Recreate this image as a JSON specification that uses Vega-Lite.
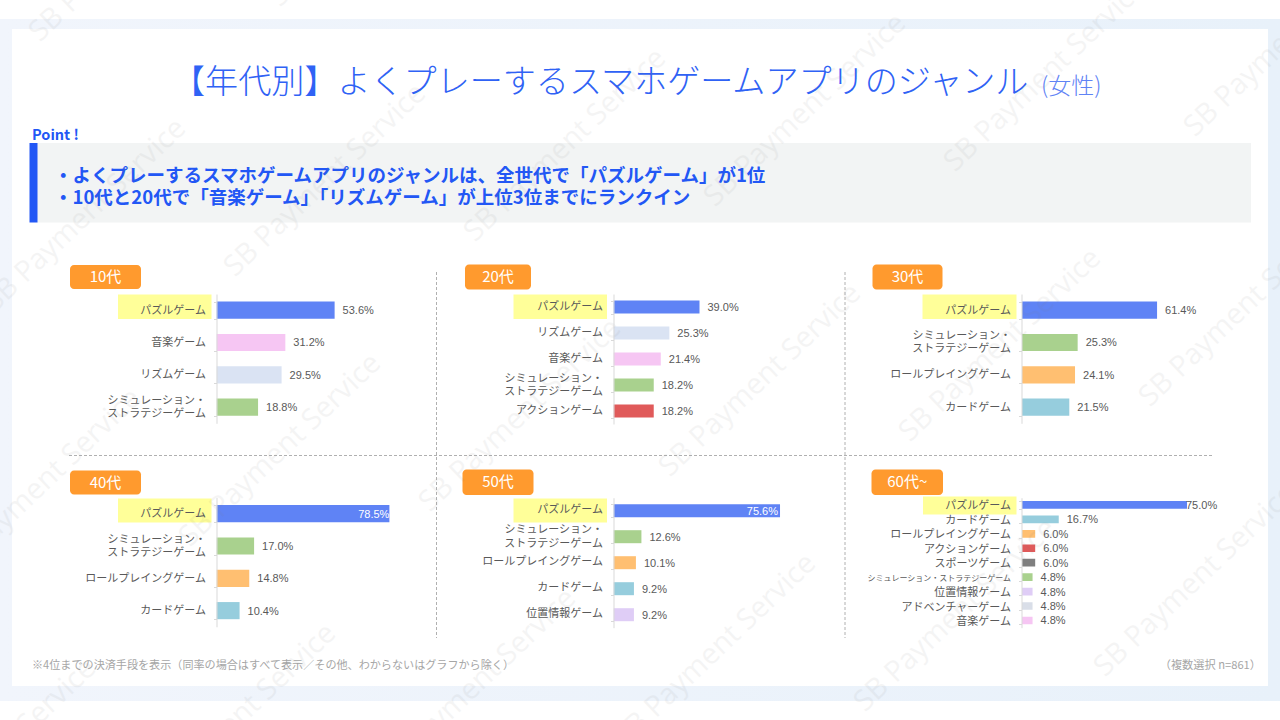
{
  "$schema": "https://vega.github.io/schema/vega-lite/v6.json",
  "width": 1280,
  "height": 720,
  "padding": 0,
  "autosize": {"type": "none"},
  "background": "#ffffff",
  "config": {
    "view": {"stroke": null},
    "legend": {"disable": true},
    "font": "Noto Sans CJK JP",
    "axisY": {
      "title": null,
      "grid": false,
      "domainColor": "#d9d9d9",
      "tickColor": "#d9d9d9",
      "tickSize": 3,
      "tickBand": "extent",
      "labelColor": "#595959",
      "labelFont": "Noto Sans CJK JP",
      "labelFontSize": 11,
      "labelLineHeight": 13.3,
      "labelPadding": 8,
      "labelLimit": 300,
      "labelOverlap": false,
      "labelBound": false
    }
  },
  "datasets": {
    "shares": [
      {"age": "10代", "genre": "パズルゲーム", "share": 0.536},
      {"age": "10代", "genre": "音楽ゲーム", "share": 0.312},
      {"age": "10代", "genre": "リズムゲーム", "share": 0.295},
      {"age": "10代", "genre": "シミュレーション・ストラテジーゲーム", "share": 0.188},
      {"age": "20代", "genre": "パズルゲーム", "share": 0.39},
      {"age": "20代", "genre": "リズムゲーム", "share": 0.253},
      {"age": "20代", "genre": "音楽ゲーム", "share": 0.214},
      {"age": "20代", "genre": "シミュレーション・ストラテジーゲーム", "share": 0.182},
      {"age": "20代", "genre": "アクションゲーム", "share": 0.182},
      {"age": "30代", "genre": "パズルゲーム", "share": 0.614},
      {"age": "30代", "genre": "シミュレーション・ストラテジーゲーム", "share": 0.253},
      {"age": "30代", "genre": "ロールプレイングゲーム", "share": 0.241},
      {"age": "30代", "genre": "カードゲーム", "share": 0.215},
      {"age": "40代", "genre": "パズルゲーム", "share": 0.785},
      {"age": "40代", "genre": "シミュレーション・ストラテジーゲーム", "share": 0.17},
      {"age": "40代", "genre": "ロールプレイングゲーム", "share": 0.148},
      {"age": "40代", "genre": "カードゲーム", "share": 0.104},
      {"age": "50代", "genre": "パズルゲーム", "share": 0.756},
      {"age": "50代", "genre": "シミュレーション・ストラテジーゲーム", "share": 0.126},
      {"age": "50代", "genre": "ロールプレイングゲーム", "share": 0.101},
      {"age": "50代", "genre": "カードゲーム", "share": 0.092},
      {"age": "50代", "genre": "位置情報ゲーム", "share": 0.092},
      {"age": "60代~", "genre": "パズルゲーム", "share": 0.75},
      {"age": "60代~", "genre": "カードゲーム", "share": 0.167},
      {"age": "60代~", "genre": "ロールプレイングゲーム", "share": 0.06},
      {"age": "60代~", "genre": "アクションゲーム", "share": 0.06},
      {"age": "60代~", "genre": "スポーツゲーム", "share": 0.06},
      {"age": "60代~", "genre": "シミュレーション・ストラテジーゲーム", "share": 0.048},
      {"age": "60代~", "genre": "位置情報ゲーム", "share": 0.048},
      {"age": "60代~", "genre": "アドベンチャーゲーム", "share": 0.048},
      {"age": "60代~", "genre": "音楽ゲーム", "share": 0.048}
    ],
    "marks": [
      {"col": 0, "row": 0}, {"col": 1, "row": 0}, {"col": 2, "row": 0}, {"col": 3, "row": 0}, {"col": 4, "row": 0}, {"col": 5, "row": 0},
      {"col": 0, "row": 1}, {"col": 1, "row": 1}, {"col": 2, "row": 1}, {"col": 3, "row": 1}, {"col": 4, "row": 1}, {"col": 5, "row": 1},
      {"col": 0, "row": 2}, {"col": 1, "row": 2}, {"col": 2, "row": 2}, {"col": 3, "row": 2}, {"col": 4, "row": 2}, {"col": 5, "row": 2},
      {"col": 0, "row": 3}, {"col": 1, "row": 3}, {"col": 2, "row": 3}, {"col": 3, "row": 3}, {"col": 4, "row": 3}, {"col": 5, "row": 3}
    ]
  },
  "resolve": {
    "scale": {"x": "independent", "y": "independent", "xOffset": "independent", "yOffset": "independent"},
    "axis": {"x": "independent", "y": "independent"}
  },
  "layer": [
    {
      "data": {"values": [{"item": "band"}]},
      "mark": {"type": "rect", "fill": {"gradient": "linear", "x1": 0, "y1": 0, "x2": 1, "y2": 0, "stops": [{"offset": 0, "color": "#f1f5fc"}, {"offset": 1, "color": "#e8f1fa"}]}},
      "encoding": {
        "x": {"field": "item", "type": "nominal", "scale": {"type": "band", "range": [0, 1280], "paddingInner": 0, "paddingOuter": 0}, "axis": null},
        "y": {"field": "item", "type": "nominal", "scale": {"type": "band", "range": [19, 701], "paddingInner": 0, "paddingOuter": 0}, "axis": null}
      }
    },
    {
      "data": {"values": [{"item": "card"}]},
      "mark": {"type": "rect", "fill": "#ffffff"},
      "encoding": {
        "x": {"field": "item", "type": "nominal", "scale": {"type": "band", "range": [12, 1268], "paddingInner": 0, "paddingOuter": 0}, "axis": null},
        "y": {"field": "item", "type": "nominal", "scale": {"type": "band", "range": [29, 686], "paddingInner": 0, "paddingOuter": 0}, "axis": null}
      }
    },
    {
      "data": {"values": [{"item": "point box"}]},
      "mark": {"type": "rect", "fill": "#f2f4f4"},
      "encoding": {
        "x": {"field": "item", "type": "nominal", "scale": {"type": "band", "range": [37, 1251], "paddingInner": 0, "paddingOuter": 0}, "axis": null},
        "y": {"field": "item", "type": "nominal", "scale": {"type": "band", "range": [143, 222.5], "paddingInner": 0, "paddingOuter": 0}, "axis": null}
      }
    },
    {
      "data": {"values": [{"item": "point bar"}]},
      "mark": {"type": "rect", "fill": "#2257f5"},
      "encoding": {
        "x": {"field": "item", "type": "nominal", "scale": {"type": "band", "range": [29.5, 37.5], "paddingInner": 0, "paddingOuter": 0}, "axis": null},
        "y": {"field": "item", "type": "nominal", "scale": {"type": "band", "range": [143, 222.5], "paddingInner": 0, "paddingOuter": 0}, "axis": null}
      }
    },
    {
      "data": {"values": [{"text": "【年代別】よくプレーするスマホゲームアプリのジャンル"}]},
      "mark": {"type": "text", "align": "left", "baseline": "middle", "fontSize": 33.1, "fontWeight": 300, "color": "#2f62f5"},
      "encoding": {
        "x": {"field": "text", "type": "nominal", "scale": {"type": "point", "range": [172, 172]}, "axis": null},
        "y": {"field": "text", "type": "nominal", "scale": {"type": "point", "range": [83, 83]}, "axis": null},
        "text": {"field": "text"}
      }
    },
    {
      "data": {"values": [{"text": "(女性)"}]},
      "mark": {"type": "text", "align": "left", "baseline": "middle", "fontSize": 23, "fontWeight": 300, "color": "#5f83f5"},
      "encoding": {
        "x": {"field": "text", "type": "nominal", "scale": {"type": "point", "range": [1041, 1041]}, "axis": null},
        "y": {"field": "text", "type": "nominal", "scale": {"type": "point", "range": [86.5, 86.5]}, "axis": null},
        "text": {"field": "text"}
      }
    },
    {
      "data": {"values": [{"text": "Point !"}]},
      "mark": {"type": "text", "align": "left", "baseline": "middle", "fontSize": 14.5, "fontWeight": "bold", "color": "#2257f5"},
      "encoding": {
        "x": {"field": "text", "type": "nominal", "scale": {"type": "point", "range": [32, 32]}, "axis": null},
        "y": {"field": "text", "type": "nominal", "scale": {"type": "point", "range": [135.5, 135.5]}, "axis": null},
        "text": {"field": "text"}
      }
    },
    {
      "data": {"values": [
        {"text": "・よくプレーするスマホゲームアプリのジャンルは、全世代で「パズルゲーム」が1位"},
        {"text": "・10代と20代で「音楽ゲーム」「リズムゲーム」が上位3位までにランクイン"}
      ]},
      "mark": {"type": "text", "align": "left", "baseline": "middle", "fontSize": 18.5, "fontWeight": "bold", "color": "#2257f5"},
      "encoding": {
        "x": {"field": "text", "type": "nominal", "scale": {"type": "point", "range": [54, 54]}, "axis": null},
        "y": {"field": "text", "type": "nominal", "sort": null, "scale": {"type": "point", "range": [175.5, 197.5], "padding": 0}, "axis": null},
        "text": {"field": "text"}
      }
    },
    {
      "data": {"values": [{"text": "※4位までの決済手段を表示（同率の場合はすべて表示／その他、わからないはグラフから除く）"}]},
      "mark": {"type": "text", "align": "left", "baseline": "middle", "fontSize": 11.1, "color": "#a6a6a6"},
      "encoding": {
        "x": {"field": "text", "type": "nominal", "scale": {"type": "point", "range": [32, 32]}, "axis": null},
        "y": {"field": "text", "type": "nominal", "scale": {"type": "point", "range": [665.5, 665.5]}, "axis": null},
        "text": {"field": "text"}
      }
    },
    {
      "data": {"values": [{"text": "（複数選択 n=861）"}]},
      "mark": {"type": "text", "align": "right", "baseline": "middle", "fontSize": 11.2, "color": "#a6a6a6"},
      "encoding": {
        "x": {"field": "text", "type": "nominal", "scale": {"type": "point", "range": [1261, 1261]}, "axis": null},
        "y": {"field": "text", "type": "nominal", "scale": {"type": "point", "range": [665.5, 665.5]}, "axis": null},
        "text": {"field": "text"}
      }
    },
    {
      "data": {"values": [{"divider": "left"}, {"divider": "right"}]},
      "mark": {"type": "rule", "color": "#b0b0b0", "strokeDash": [3, 2], "strokeWidth": 1},
      "encoding": {
        "x": {"field": "divider", "type": "nominal", "sort": null, "scale": {"type": "point", "range": [436.5, 845], "padding": 0}, "axis": null},
        "y": {"datum": 0, "type": "quantitative", "scale": {"domain": [0, 1], "range": [272, 638]}, "axis": null},
        "y2": {"datum": 1}
      }
    },
    {
      "data": {"values": [{"divider": "middle"}]},
      "mark": {"type": "rule", "color": "#b0b0b0", "strokeDash": [3, 2], "strokeWidth": 1},
      "encoding": {
        "y": {"field": "divider", "type": "nominal", "scale": {"type": "point", "range": [455.5, 455.5]}, "axis": null},
        "x": {"datum": 0, "type": "quantitative", "scale": {"domain": [0, 1], "range": [69, 1212]}, "axis": null},
        "x2": {"datum": 1}
      }
    },
    {
      "data": {"values": [{"age": "10代"}]},
      "encoding": {
        "x": {"field": "age", "type": "nominal", "scale": {"type": "band", "range": [70, 141], "paddingInner": 0, "paddingOuter": 0}, "axis": null},
        "y": {"field": "age", "type": "nominal", "scale": {"type": "band", "range": [265, 289], "paddingInner": 0, "paddingOuter": 0}, "axis": null}
      },
      "layer": [
        {"mark": {"type": "rect", "fill": "#ff9a2e", "cornerRadius": 4}},
        {"mark": {"type": "text", "color": "#ffffff", "fontSize": 15}, "encoding": {"text": {"field": "age"}}}
      ]
    },
    {
      "data": {"values": [{"age": "20代"}]},
      "encoding": {
        "x": {"field": "age", "type": "nominal", "scale": {"type": "band", "range": [465, 531], "paddingInner": 0, "paddingOuter": 0}, "axis": null},
        "y": {"field": "age", "type": "nominal", "scale": {"type": "band", "range": [264.5, 289.5], "paddingInner": 0, "paddingOuter": 0}, "axis": null}
      },
      "layer": [
        {"mark": {"type": "rect", "fill": "#ff9a2e", "cornerRadius": 4}},
        {"mark": {"type": "text", "color": "#ffffff", "fontSize": 15}, "encoding": {"text": {"field": "age"}}}
      ]
    },
    {
      "data": {"values": [{"age": "30代"}]},
      "encoding": {
        "x": {"field": "age", "type": "nominal", "scale": {"type": "band", "range": [872.5, 942.5], "paddingInner": 0, "paddingOuter": 0}, "axis": null},
        "y": {"field": "age", "type": "nominal", "scale": {"type": "band", "range": [264.5, 289.5], "paddingInner": 0, "paddingOuter": 0}, "axis": null}
      },
      "layer": [
        {"mark": {"type": "rect", "fill": "#ff9a2e", "cornerRadius": 4}},
        {"mark": {"type": "text", "color": "#ffffff", "fontSize": 15}, "encoding": {"text": {"field": "age"}}}
      ]
    },
    {
      "data": {"values": [{"age": "40代"}]},
      "encoding": {
        "x": {"field": "age", "type": "nominal", "scale": {"type": "band", "range": [70, 141], "paddingInner": 0, "paddingOuter": 0}, "axis": null},
        "y": {"field": "age", "type": "nominal", "scale": {"type": "band", "range": [470.5, 494.5], "paddingInner": 0, "paddingOuter": 0}, "axis": null}
      },
      "layer": [
        {"mark": {"type": "rect", "fill": "#ff9a2e", "cornerRadius": 4}},
        {"mark": {"type": "text", "color": "#ffffff", "fontSize": 15}, "encoding": {"text": {"field": "age"}}}
      ]
    },
    {
      "data": {"values": [{"age": "50代"}]},
      "encoding": {
        "x": {"field": "age", "type": "nominal", "scale": {"type": "band", "range": [462.5, 533.5], "paddingInner": 0, "paddingOuter": 0}, "axis": null},
        "y": {"field": "age", "type": "nominal", "scale": {"type": "band", "range": [469.5, 495], "paddingInner": 0, "paddingOuter": 0}, "axis": null}
      },
      "layer": [
        {"mark": {"type": "rect", "fill": "#ff9a2e", "cornerRadius": 4}},
        {"mark": {"type": "text", "color": "#ffffff", "fontSize": 15}, "encoding": {"text": {"field": "age"}}}
      ]
    },
    {
      "data": {"values": [{"age": "60代~"}]},
      "encoding": {
        "x": {"field": "age", "type": "nominal", "scale": {"type": "band", "range": [871.5, 943], "paddingInner": 0, "paddingOuter": 0}, "axis": null},
        "y": {"field": "age", "type": "nominal", "scale": {"type": "band", "range": [469.5, 495], "paddingInner": 0, "paddingOuter": 0}, "axis": null}
      },
      "layer": [
        {"mark": {"type": "rect", "fill": "#ff9a2e", "cornerRadius": 4}},
        {"mark": {"type": "text", "color": "#ffffff", "fontSize": 15}, "encoding": {"text": {"field": "age"}}}
      ]
    },
    {
      "data": {"values": [{"age": "10代"}]},
      "mark": {"type": "rect", "fill": "#ffff99"},
      "encoding": {
        "x": {"field": "age", "type": "nominal", "scale": {"type": "band", "range": [118, 211.5], "paddingInner": 0, "paddingOuter": 0}, "axis": null},
        "y": {"field": "age", "type": "nominal", "scale": {"type": "band", "range": [294.5, 319], "paddingInner": 0, "paddingOuter": 0}, "axis": null}
      }
    },
    {
      "data": {"values": [{"age": "20代"}]},
      "mark": {"type": "rect", "fill": "#ffff99"},
      "encoding": {
        "x": {"field": "age", "type": "nominal", "scale": {"type": "band", "range": [513.5, 607], "paddingInner": 0, "paddingOuter": 0}, "axis": null},
        "y": {"field": "age", "type": "nominal", "scale": {"type": "band", "range": [294.5, 319], "paddingInner": 0, "paddingOuter": 0}, "axis": null}
      }
    },
    {
      "data": {"values": [{"age": "30代"}]},
      "mark": {"type": "rect", "fill": "#ffff99"},
      "encoding": {
        "x": {"field": "age", "type": "nominal", "scale": {"type": "band", "range": [922.5, 1016.5], "paddingInner": 0, "paddingOuter": 0}, "axis": null},
        "y": {"field": "age", "type": "nominal", "scale": {"type": "band", "range": [294.5, 319], "paddingInner": 0, "paddingOuter": 0}, "axis": null}
      }
    },
    {
      "data": {"values": [{"age": "40代"}]},
      "mark": {"type": "rect", "fill": "#ffff99"},
      "encoding": {
        "x": {"field": "age", "type": "nominal", "scale": {"type": "band", "range": [118, 211.5], "paddingInner": 0, "paddingOuter": 0}, "axis": null},
        "y": {"field": "age", "type": "nominal", "scale": {"type": "band", "range": [498.5, 522.5], "paddingInner": 0, "paddingOuter": 0}, "axis": null}
      }
    },
    {
      "data": {"values": [{"age": "50代"}]},
      "mark": {"type": "rect", "fill": "#ffff99"},
      "encoding": {
        "x": {"field": "age", "type": "nominal", "scale": {"type": "band", "range": [513.5, 607], "paddingInner": 0, "paddingOuter": 0}, "axis": null},
        "y": {"field": "age", "type": "nominal", "scale": {"type": "band", "range": [498.5, 522.5], "paddingInner": 0, "paddingOuter": 0}, "axis": null}
      }
    },
    {
      "data": {"values": [{"age": "60代~"}]},
      "mark": {"type": "rect", "fill": "#ffff99"},
      "encoding": {
        "x": {"field": "age", "type": "nominal", "scale": {"type": "band", "range": [923, 1016.5], "paddingInner": 0, "paddingOuter": 0}, "axis": null},
        "y": {"field": "age", "type": "nominal", "scale": {"type": "band", "range": [496.5, 514.5], "paddingInner": 0, "paddingOuter": 0}, "axis": null}
      }
    },
    {
      "data": {"name": "shares"},
      "transform": [{"filter": "datum.age === '10代'"}],
      "encoding": {
        "x": {"field": "share", "type": "quantitative", "scale": {"domain": [0, 1], "range": [216.7, 436.7]}, "axis": null},
        "y": {
          "field": "genre", "type": "nominal", "sort": null,
          "scale": {"domain": ["パズルゲーム", "音楽ゲーム", "リズムゲーム", "シミュレーション・ストラテジーゲーム"], "range": [294, 423.3], "paddingInner": 0.47, "paddingOuter": 0.235},
          "axis": {
            "orient": "left", "zindex": 1, "offset": -216.5,
            "labelOffset": {"condition": {"test": "datum.value === 'シミュレーション・ストラテジーゲーム'", "value": -6.8}, "value": 0},
            "labelExpr": "datum.label === 'シミュレーション・ストラテジーゲーム' ? ['シミュレーション・', 'ストラテジーゲーム'] : datum.label"
          }
        }
      },
      "layer": [
        {
          "mark": {"type": "bar"},
          "encoding": {
            "color": {
              "field": "genre", "type": "nominal",
              "scale": {
                "domain": ["パズルゲーム", "音楽ゲーム", "リズムゲーム", "シミュレーション・ストラテジーゲーム", "アクションゲーム", "ロールプレイングゲーム", "カードゲーム", "位置情報ゲーム", "スポーツゲーム", "アドベンチャーゲーム"],
                "range": ["#5f83f5", "#f6c6f3", "#dae3f3", "#a9d18e", "#e05a5a", "#ffbf71", "#96cddd", "#dfcdf6", "#7f7f7f", "#d9dee8"]
              }
            }
          }
        },
        {
          "mark": {"type": "text", "align": "left", "baseline": "middle", "dx": 8, "dy": 1, "font": "Liberation Sans", "fontSize": 11, "color": "#595959"},
          "encoding": {"text": {"field": "share", "type": "quantitative", "format": ".1%"}}
        }
      ]
    },
    {
      "data": {"name": "shares"},
      "transform": [{"filter": "datum.age === '20代'"}],
      "encoding": {
        "x": {"field": "share", "type": "quantitative", "scale": {"domain": [0, 1], "range": [613.7, 833.7]}, "axis": null},
        "y": {
          "field": "genre", "type": "nominal", "sort": null,
          "scale": {"domain": ["パズルゲーム", "リズムゲーム", "音楽ゲーム", "シミュレーション・ストラテジーゲーム", "アクションゲーム"], "range": [294, 424], "paddingInner": 0.5, "paddingOuter": 0.25},
          "axis": {
            "orient": "left", "zindex": 1, "offset": -613.5,
            "labelOffset": {"condition": {"test": "datum.value === 'シミュレーション・ストラテジーゲーム'", "value": -6.8}, "value": -1},
            "labelExpr": "datum.label === 'シミュレーション・ストラテジーゲーム' ? ['シミュレーション・', 'ストラテジーゲーム'] : datum.label"
          }
        }
      },
      "layer": [
        {"mark": {"type": "bar"}, "encoding": {"color": {"field": "genre", "type": "nominal"}}},
        {
          "mark": {"type": "text", "align": "left", "baseline": "middle", "dx": 8, "dy": 1, "font": "Liberation Sans", "fontSize": 11, "color": "#595959"},
          "encoding": {"text": {"field": "share", "type": "quantitative", "format": ".1%"}}
        }
      ]
    },
    {
      "data": {"name": "shares"},
      "transform": [{"filter": "datum.age === '30代'"}],
      "encoding": {
        "x": {"field": "share", "type": "quantitative", "scale": {"domain": [0, 1], "range": [1022, 1242]}, "axis": null},
        "y": {
          "field": "genre", "type": "nominal", "sort": null,
          "scale": {"domain": ["パズルゲーム", "シミュレーション・ストラテジーゲーム", "ロールプレイングゲーム", "カードゲーム"], "range": [294, 423.3], "paddingInner": 0.47, "paddingOuter": 0.235},
          "axis": {
            "orient": "left", "zindex": 1, "offset": -1021.5,
            "labelOffset": {"condition": {"test": "datum.value === 'シミュレーション・ストラテジーゲーム'", "value": -6.8}, "value": 0},
            "labelExpr": "datum.label === 'シミュレーション・ストラテジーゲーム' ? ['シミュレーション・', 'ストラテジーゲーム'] : datum.label"
          }
        }
      },
      "layer": [
        {"mark": {"type": "bar"}, "encoding": {"color": {"field": "genre", "type": "nominal"}}},
        {
          "mark": {"type": "text", "align": "left", "baseline": "middle", "dx": 8, "dy": 1, "font": "Liberation Sans", "fontSize": 11, "color": "#595959"},
          "encoding": {"text": {"field": "share", "type": "quantitative", "format": ".1%"}}
        }
      ]
    },
    {
      "data": {"name": "shares"},
      "transform": [{"filter": "datum.age === '40代'"}],
      "encoding": {
        "x": {"field": "share", "type": "quantitative", "scale": {"domain": [0, 1], "range": [216.7, 436.7]}, "axis": null},
        "y": {
          "field": "genre", "type": "nominal", "sort": null,
          "scale": {"domain": ["パズルゲーム", "シミュレーション・ストラテジーゲーム", "ロールプレイングゲーム", "カードゲーム"], "range": [497.5, 626.8], "paddingInner": 0.47, "paddingOuter": 0.235},
          "axis": {
            "orient": "left", "zindex": 1, "offset": -216.5,
            "labelOffset": {"condition": {"test": "datum.value === 'シミュレーション・ストラテジーゲーム'", "value": -6.8}, "value": 0},
            "labelExpr": "datum.label === 'シミュレーション・ストラテジーゲーム' ? ['シミュレーション・', 'ストラテジーゲーム'] : datum.label"
          }
        }
      },
      "layer": [
        {"mark": {"type": "bar"}, "encoding": {"color": {"field": "genre", "type": "nominal"}}},
        {
          "mark": {"type": "text", "align": "left", "baseline": "middle", "dx": 8, "dy": 1, "font": "Liberation Sans", "fontSize": 11, "color": "#595959"},
          "transform": [{"filter": "datum.share < 0.7"}],
          "encoding": {"text": {"field": "share", "type": "quantitative", "format": ".1%"}}
        },
        {
          "mark": {"type": "text", "align": "right", "baseline": "middle", "dx": 0, "dy": 1, "font": "Liberation Sans", "fontSize": 11, "color": "#ffffff"},
          "transform": [{"filter": "datum.share >= 0.7"}],
          "encoding": {"text": {"field": "share", "type": "quantitative", "format": ".1%"}}
        }
      ]
    },
    {
      "data": {"name": "shares"},
      "transform": [{"filter": "datum.age === '50代'"}],
      "encoding": {
        "x": {"field": "share", "type": "quantitative", "scale": {"domain": [0, 1], "range": [613.7, 833.7]}, "axis": null},
        "y": {
          "field": "genre", "type": "nominal", "sort": null,
          "scale": {"domain": ["パズルゲーム", "シミュレーション・ストラテジーゲーム", "ロールプレイングゲーム", "カードゲーム", "位置情報ゲーム"], "range": [497.7, 627.7], "paddingInner": 0.5, "paddingOuter": 0.25},
          "axis": {
            "orient": "left", "zindex": 1, "offset": -613.5,
            "labelOffset": {"condition": {"test": "datum.value === 'シミュレーション・ストラテジーゲーム'", "value": -6.8}, "value": -1},
            "labelExpr": "datum.label === 'シミュレーション・ストラテジーゲーム' ? ['シミュレーション・', 'ストラテジーゲーム'] : datum.label"
          }
        }
      },
      "layer": [
        {"mark": {"type": "bar"}, "encoding": {"color": {"field": "genre", "type": "nominal"}}},
        {
          "mark": {"type": "text", "align": "left", "baseline": "middle", "dx": 8, "dy": 1, "font": "Liberation Sans", "fontSize": 11, "color": "#595959"},
          "transform": [{"filter": "datum.share < 0.7"}],
          "encoding": {"text": {"field": "share", "type": "quantitative", "format": ".1%"}}
        },
        {
          "mark": {"type": "text", "align": "right", "baseline": "middle", "dx": -2, "dy": 1, "font": "Liberation Sans", "fontSize": 11, "color": "#ffffff"},
          "transform": [{"filter": "datum.share >= 0.7"}],
          "encoding": {"text": {"field": "share", "type": "quantitative", "format": ".1%"}}
        }
      ]
    },
    {
      "data": {"name": "shares"},
      "transform": [{"filter": "datum.age === '60代~'"}],
      "encoding": {
        "x": {"field": "share", "type": "quantitative", "scale": {"domain": [0, 1], "range": [1022, 1242]}, "axis": null},
        "y": {
          "field": "genre", "type": "nominal", "sort": null,
          "scale": {"domain": ["パズルゲーム", "カードゲーム", "ロールプレイングゲーム", "アクションゲーム", "スポーツゲーム", "シミュレーション・ストラテジーゲーム", "位置情報ゲーム", "アドベンチャーゲーム", "音楽ゲーム"], "range": [497.7, 627.7], "paddingInner": 0.47, "paddingOuter": 0.235},
          "axis": {
            "orient": "left",
            "zindex": 1,
            "offset": -1021.5,
            "labelOffset": 1,
            "labelFontSize": {"condition": {"test": "datum.label === 'シミュレーション・ストラテジーゲーム'", "value": 8}, "value": 11}
          }
        }
      },
      "layer": [
        {"mark": {"type": "bar"}, "encoding": {"color": {"field": "genre", "type": "nominal"}}},
        {
          "mark": {"type": "text", "align": "left", "baseline": "middle", "dx": {"expr": "datum.share > 0.7 ? -1 : 8"}, "dy": 1, "font": "Liberation Sans", "fontSize": 11, "color": "#595959"},
          "encoding": {"text": {"field": "share", "type": "quantitative", "format": ".1%"}}
        }
      ]
    },
    {
      "data": {"name": "marks"},
      "mark": {"type": "text", "text": "SB Payment Service", "font": "Open Sans", "fontSize": 29, "angle": 316.5, "align": "center", "baseline": "middle", "color": "#808080", "opacity": 0.08},
      "encoding": {
        "x": {"field": "col", "type": "ordinal", "scale": {"type": "point", "domain": [0, 1, 2, 3, 4, 5], "range": [130, 1330], "padding": 0}, "axis": null},
        "y": {"field": "row", "type": "ordinal", "scale": {"type": "point", "domain": [0, 1, 2, 3], "range": [-55, 755], "padding": 0}, "axis": null},
        "xOffset": {"field": "row", "type": "quantitative", "scale": {"domain": [0, 3], "range": [0, -135]}},
        "yOffset": {"field": "col", "type": "quantitative", "scale": {"domain": [0, 5], "range": [0, -175]}}
      }
    }
  ]
}
